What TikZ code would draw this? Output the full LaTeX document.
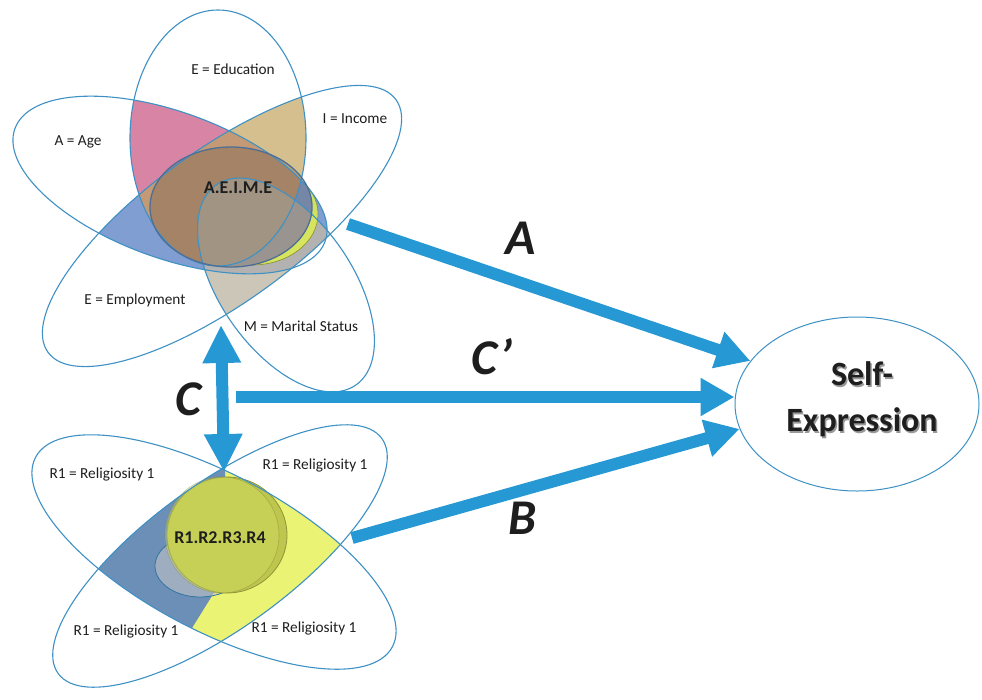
\documentclass[tikz,border=0pt]{standalone}
\usepackage{fontspec}
\setmainfont{Carlito}
\usetikzlibrary{arrows.meta,shapes.geometric}
\definecolor{edgeblue}{RGB}{62,145,196}
\definecolor{arrowblue}{RGB}{38,152,212}
\definecolor{pinkf}{RGB}{204,92,135}
\definecolor{tanf}{RGB}{200,170,105}
\definecolor{bluef}{RGB}{86,126,196}
\definecolor{greyf}{RGB}{192,184,168}
\definecolor{yellowf}{RGB}{222,238,80}
\definecolor{centref}{RGB}{95,80,70}
\definecolor{centreedge}{RGB}{78,110,150}
\definecolor{olivef}{RGB}{190,198,78}
\definecolor{lightyel}{RGB}{228,238,110}
\definecolor{greyell}{RGB}{200,200,200}
\definecolor{lensyel}{RGB}{232,242,100}
\definecolor{txtdark}{RGB}{30,30,30}
% ellipse paths (pixel coordinates, y downwards)
\newcommand\ellAge[1]{\path[#1,rotate around={-20:(170,185)}] (170,185) ellipse [x radius=165pt,y radius=73pt];}
\newcommand\ellEdu[1]{\path[#1] (218,138) ellipse [x radius=88pt,y radius=128pt];}
\newcommand\ellIE[1]{\path[#1,rotate around={36:(222,226)}] (222,226) ellipse [x radius=215pt,y radius=76pt];}
\newcommand\ellMar[1]{\path[#1,rotate around={-55:(286,285)}] (286,285) ellipse [x radius=122pt,y radius=66pt];}
\newcommand\ellCen[1]{\path[#1] (231,207) ellipse [x radius=81pt,y radius=60pt];}
\newcommand\ellYel[1]{\path[#1] (252,214) ellipse [x radius=66pt,y radius=51pt];}
\newcommand\ellP[1]{\path[#1,rotate around={-28:(214,552)}] (214,552) ellipse [x radius=202pt,y radius=78pt];}
\newcommand\ellQ[1]{\path[#1,rotate around={36:(220,556)}] (220,556) ellipse [x radius=200pt,y radius=72pt];}
\newcommand\ellGrey[1]{\path[#1] (200,566) ellipse [x radius=45pt,y radius=31pt];}
\newcommand\ellLight[1]{\path[#1] (222,535) ellipse [x radius=57pt,y radius=58pt];}
\newcommand\ellOlive[1]{\path[#1] (227,535) ellipse [x radius=60pt,y radius=58pt];}
\newcommand\shadowed[1]{\leavevmode\rlap{\hspace{1.5pt}\raisebox{-1.5pt}{\color{black!40}#1}}#1}
\tikzset{
  petal/.style={draw=edgeblue, line width=1.1pt},
  lbl/.style={font=\fontsize{15.3}{17}\selectfont, text=txtdark, inner sep=0pt},
  lblbold/.style={font=\fontsize{18}{20}\selectfont\bfseries, text=txtdark, inner sep=0pt},
  pathletter/.style={font=\fontsize{50}{55}\selectfont\bfseries\itshape, text=txtdark, inner sep=0pt},
  bigarrow/.style={draw=arrowblue, line width=12pt, -{Triangle[width=36pt,length=34pt]}},
  dblarrow/.style={draw=arrowblue, line width=12pt, {Triangle[width=36pt,length=38pt]}-{Triangle[width=36pt,length=38pt]}},
}
\begin{document}
\begin{tikzpicture}[x=1pt,y=-1pt]
\useasboundingbox (0,0) rectangle (982,699);
\fill[white] (0,0) rectangle (982,699);

% ---------- top flower ----------
\begin{scope}\ellAge{clip}\ellIE{fill=bluef, fill opacity=.75}\end{scope}
\begin{scope}\ellAge{clip}\ellEdu{fill=pinkf, fill opacity=.75}\end{scope}
\begin{scope}\ellEdu{clip}\ellIE{fill=tanf, fill opacity=.75}\end{scope}
\begin{scope}\ellMar{clip}\ellIE{fill=greyf, fill opacity=.8}\end{scope}
\begin{scope}[even odd rule]
  \clip (0,0) rectangle (982,699) (231,207) ellipse [x radius=81pt,y radius=60pt];
  \ellYel{fill=yellowf, fill opacity=.85, draw=yellowf!60!black, line width=.6pt}
\end{scope}
\ellCen{fill=centref, fill opacity=.3}
\ellAge{petal}
\ellEdu{petal}
\ellIE{petal}
\ellMar{petal}
\ellCen{draw=centreedge, line width=1.3pt}

\node[lbl] (edu) at (233,69) {E = Education};
\node[lbl] (inc) at (355,119) {I = Income};
\node[lbl] (age) at (78,142) {A = Age};
\node[lblbold] (aeime) at (238,188) {A.E.I.M.E};
\node[lbl] (emp) at (135,300) {E = Employment};
\node[lbl] (mar) at (301,326) {M = Marital Status};

% ---------- bottom flower ----------
\begin{scope}\ellP{clip}\ellQ{fill=lensyel, fill opacity=.9}\end{scope}
\begin{scope}
  \ellP{clip}\ellQ{clip}
  \fill[bluef, fill opacity=.85] (0,400) -- (225,400) -- (225,575) -- (192,628) -- (0,628) -- cycle;
\end{scope}
\ellGrey{fill=greyell, fill opacity=.55, draw=edgeblue!80!black, line width=.8pt}
\ellOlive{fill=olivef, draw=olivef!75!black, line width=.8pt}
\ellLight{fill=lightyel, fill opacity=.25, draw=olivef!70!black, draw opacity=.5, line width=.6pt}
\ellP{petal}
\ellQ{petal}

\node[lbl] (r1) at (102,474) {R1 = Religiosity 1};
\node[lbl] (r2) at (315,465) {R1 = Religiosity 1};
\node[lbl] (r3) at (126,631) {R1 = Religiosity 1};
\node[lbl] (r4) at (304,628) {R1 = Religiosity 1};
\node[lblbold] (rall) at (220,538) {R1.R2.R3.R4};

% ---------- outcome ----------
\node[ellipse, draw=edgeblue, line width=1pt, minimum width=244pt, minimum height=174pt, inner sep=0pt] (se) at (857,404) {};
\node[font=\fontsize{34}{46}\selectfont\bfseries, text=txtdark, align=center] (setext) at (862,400) {\shadowed{Self-}\\\shadowed{Expression}};

% ---------- arrows ----------
\coordinate (aS) at (348,224);
\coordinate (cS) at (236,397);
\coordinate (bS) at (352,538);
\coordinate (cT) at (221,325);
\coordinate (cB) at (224,472);
\draw[bigarrow] (aS) -- (se.158);
\draw[bigarrow] (cS) -- (cS -| se.west);
\draw[bigarrow] (bS) -- (se.192);
\draw[dblarrow] (cB) -- (cT);

\node[pathletter] (la) at (521,238) {A};
\node[pathletter] (lc2) at (492,357) {C’};
\node[pathletter] (lb) at (523,518) {B};
\node[pathletter] (lc) at (188,399) {C};
\end{tikzpicture}
\end{document}
